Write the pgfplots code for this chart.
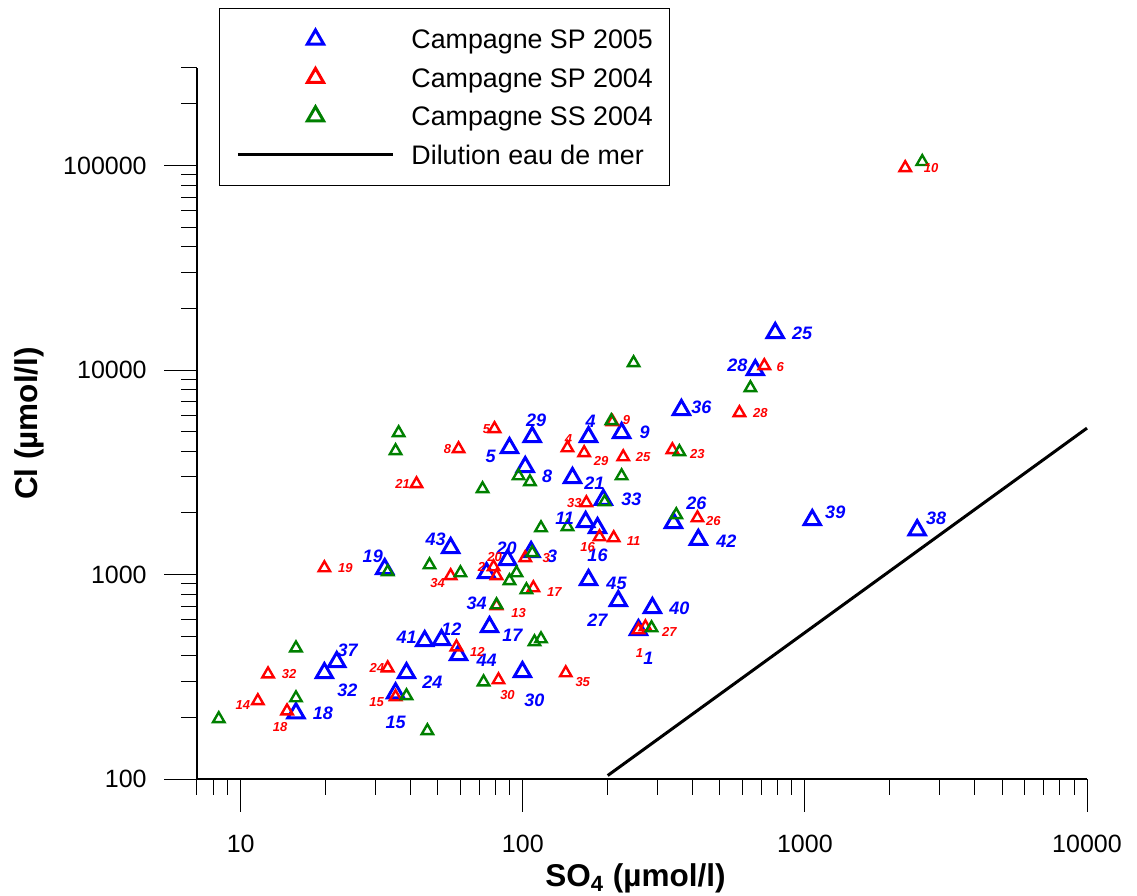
\documentclass[border=0pt]{standalone}
\usepackage{fontspec}
\setmainfont{Liberation Sans}
\usepackage{pgfplots}
\usepackage{pgfplotstable}
\pgfplotsset{compat=1.18}
\definecolor{dgreen}{RGB}{0,128,0}

\pgfplotstableread{
x y lab dx dy
785 15200 25 27 0
667 10000 28 -18 5
365 6390 36 20 3
171 4710 4 2 16
108 4710 29 4 17
224 4930 9 23 1
89.7 4160 5 -19 -8
102 3360 8 22 -9
150 2970 21 22 -5
193 2320 33 28 0
342 1790 26 23 20
167 1810 11 -21 4
184 1690 16 0 -27
419 1480 42 28 -2
1062 1850 39 23 8
2500 1650 38 19 12
55.5 1350 43 -15 9
32.4 1065 19 -12 13
88.3 1180 20 -1 12
107 1290 3 21 -4
74.4 1018 34 -10 -30
171 941 45 28 -3
218 743 27 -21 -19
288 687 40 27 0
257 536 1 10 -28
76.2 554 17 23 -8
44.9 473 41 -18 4
51.5 479 12 10 11
59.2 404 44 28 -5
99.7 334 30 12 -28
21.9 374 37 11 12
19.8 330 32 23 -17
38.7 330 24 26 -9
35.4 263 15 0 -29
15.7 210 18 27 0
}\blueTab

\pgfplotstableread{
x y lab dx dy
2268 97500 10 26 0
718 10490 6 16 -1
586 6180 28 21 0
339 4070 23 25 -4
208 5580 9 14 2
227 3760 25 20 0
165 3935 29 17 -8
144 4160 4 1 9
79.4 5160 5 -8 0
59.2 4115 8 -11 0
42.0 2775 21 -14 0
168 2240 33 -12 0
416 1890 26 16 -3
210 1510 11 20 -3
187 1527 16 -12 -10
19.8 1077 19 21 0
55.5 985 34 -13 -7
78.8 1089 20 1 10
80.7 985 2 -15 9
102 1206 3 21 0
109 860 17 21 -4
80.7 702 13 22 -7
58.2 442 12 21 -5
257 536 1 1 -23
272 554 27 24 -5
82.0 305 30 9 -15
142 330 35 17 -9
12.5 326 32 21 0
11.5 241 14 -15 -4
14.6 215 18 -7 -16
33.2 349 24 -11 0
35.4 252 15 -19 -5
}\redTab

\pgfplotstableread{
x y
2606 104400
247 10840
641 8180
206 5640
359 3980
224 3035
195 2265
350 1958
36.3 4930
35.4 4025
72.0 2623
96.6 3035
106 2838
116 1690
144 1710
46.7 1114
60.1 1018
33.2 1030
95.0 1018
89.7 931
80.7 710
103 841
110 468
116 484
72.6 298
286 548
15.7 437
15.7 249
38.7 255
8.36 197
45.9 172
108 1276
}\greenTab

\begin{document}
\begin{tikzpicture}
\begin{axis}[
  scale only axis, width=445pt, height=355.5pt,
  xmode=log, ymode=log,
  xmin=7, xmax=10000, ymin=100, ymax=300000,
  axis lines*=left,
  tick align=outside,
  major tick length=16.5pt, minor tick length=8pt,
  tick style={black, line width=0.5pt},
  axis line style={black, line width=0.6pt},
  xtick={10,100,1000,10000}, xticklabels={10,100,1000,10000},
  ytick={100,1000,10000,100000}, yticklabels={100,1000,10000,100000},
  minor xtick={7,8,9,20,30,40,50,60,70,80,90,200,300,400,500,600,700,800,900,2000,3000,4000,5000,6000,7000,8000,9000},
  minor ytick={200,300,400,500,600,700,800,900,2000,3000,4000,5000,6000,7000,8000,9000,20000,30000,40000,50000,60000,70000,80000,90000,200000,300000},
  ticklabel style={font=\fontsize{12.5}{14}\selectfont, inner sep=0pt},
  xticklabel style={anchor=base, yshift=-20.5pt},
  yticklabel style={anchor=east, xshift=-8.5pt},
  xlabel={SO\textsubscript{4} (µmol/l)},
  ylabel={Cl (µmol/l)},
  label style={font=\fontsize{15.75}{18}\selectfont\bfseries, inner sep=0pt},
  xlabel style={at={(axis description cs:0.4927,-0.1510)}, anchor=base},
  ylabel style={at={(axis description cs:-0.1787,0.500)}, anchor=base},
  clip=false,
  legend style={at={(axis description cs:0.0247,1.0844)}, anchor=north west,
    draw=black, line width=0.5pt, fill=white,
    inner xsep=8.5pt, inner ysep=10.65pt,
    font=\fontsize{13.4}{15}\selectfont,
    row sep=9.6pt,
    nodes={inner sep=0pt, text height=9.6pt, text depth=0pt},
    /tikz/every odd column/.append style={column sep=8.5pt}},
  legend cell align=left,
  legend image code/.code={\draw[mark repeat=2,mark phase=2,#1] plot coordinates {(0pt,0pt) (38.75pt,0pt) (77.5pt,0pt)};},
]
% blue points
\addplot[only marks, mark=triangle, mark size=4.7pt, color=blue,
  mark options={line width=1.5pt, solid}] table[x=x, y=y] {\blueTab};
\addlegendentry{Campagne SP 2005}
% red points
\addplot[only marks, mark=triangle, mark size=3.3pt, color=red,
  mark options={line width=1.2pt, solid},
  legend image post style={mark size=4.7pt, mark options={line width=1.5pt, solid}}] table[x=x, y=y] {\redTab};
\addlegendentry{Campagne SP 2004}
% green points
\addplot[only marks, mark=triangle, mark size=3.3pt, color=dgreen,
  mark options={line width=1.2pt, solid},
  legend image post style={mark size=4.7pt, mark options={line width=1.5pt, solid}}] table[x=x, y=y] {\greenTab};
\addlegendentry{Campagne SS 2004}
% sea-water dilution line
\addplot[black, line width=1.5pt, no marks] coordinates {(200,104) (10000,5200)};
\addlegendentry{Dilution eau de mer}

% labels (offsets dx, dy given in pixels of the original figure)
\addplot[forget plot, only marks, mark=none,
  point meta=explicit symbolic, nodes near coords,
  every node near coord/.append style={anchor=center,
    font=\fontsize{9}{10}\selectfont\bfseries\itshape, text=blue, inner sep=0pt}]
  table[x expr={\thisrow{x}*10^(\thisrow{dx}/282.3)}, y expr={\thisrow{y}*10^(\thisrow{dy}/204.4)}, meta=lab] {\blueTab};
\addplot[forget plot, only marks, mark=none,
  point meta=explicit symbolic, nodes near coords,
  every node near coord/.append style={anchor=center,
    font=\fontsize{6.5}{7}\selectfont\bfseries\itshape, text=red, inner sep=0pt}]
  table[x expr={\thisrow{x}*10^(\thisrow{dx}/282.3)}, y expr={\thisrow{y}*10^(\thisrow{dy}/204.4)}, meta=lab] {\redTab};

\coordinate (bbsw) at (axis description cs:-0.22135,-0.16315);
\coordinate (bbne) at (axis description cs:1.05618,1.09564);
\end{axis}
\pgfresetboundingbox
\useasboundingbox (bbsw) rectangle (bbne);
\end{tikzpicture}
\end{document}
